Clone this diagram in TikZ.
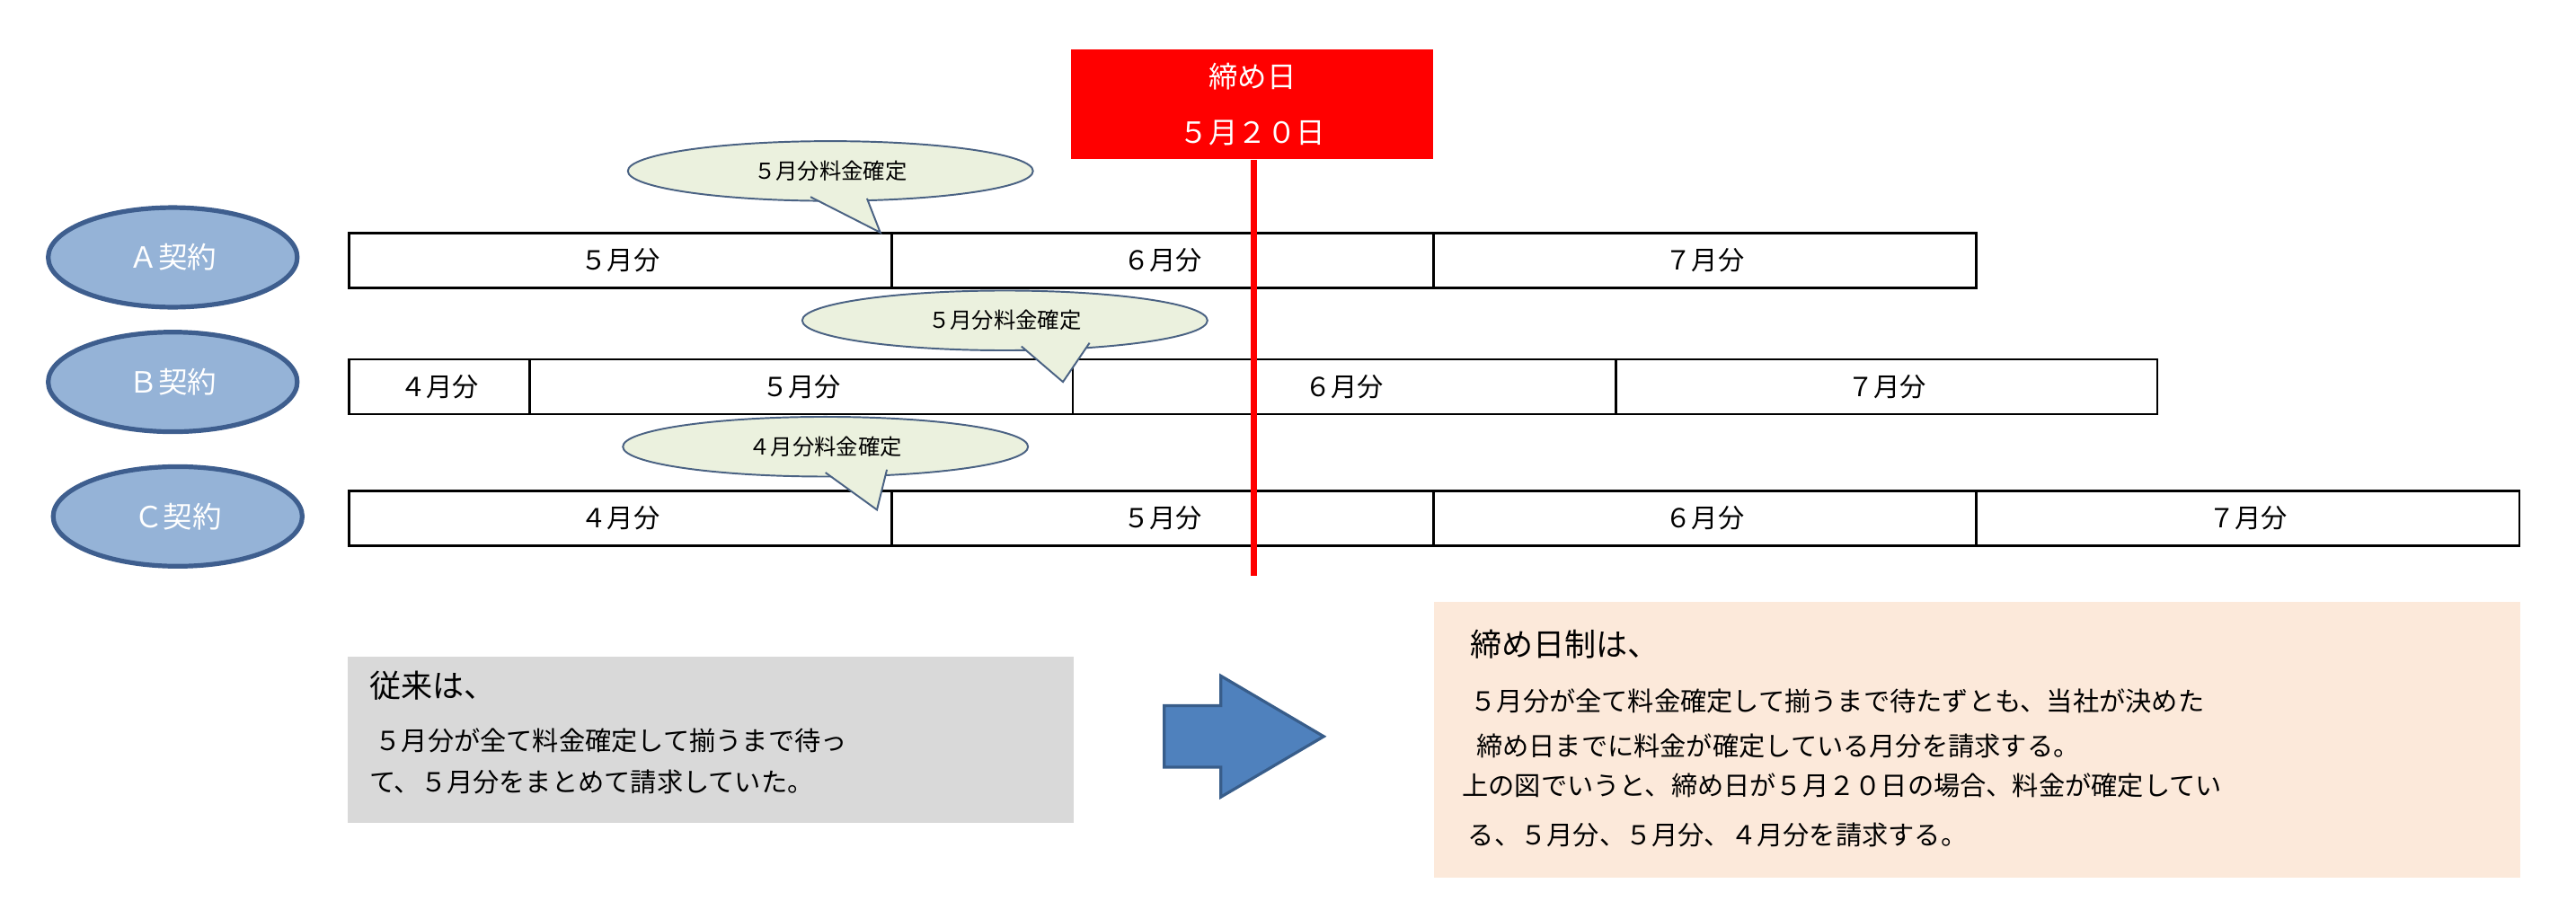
\documentclass[tikz,border=0pt]{standalone}
\usepackage{fontspec}
\setmainfont{Noto Sans CJK JP}
\usetikzlibrary{shapes.geometric}
\definecolor{ellfill}{HTML}{95B3D7}
\definecolor{elldraw}{HTML}{3E5E8E}
\definecolor{callfill}{HTML}{EBF1DE}
\definecolor{callline}{HTML}{4A6283}
\definecolor{greybox}{HTML}{D9D9D9}
\definecolor{peach}{HTML}{FCE9DA}
\definecolor{arrowblue}{HTML}{4F81BD}
\definecolor{arrowline}{HTML}{385D8A}
\begin{document}
\begin{tikzpicture}[x=0.02cm,y=-0.02cm,
  contract/.style={ellipse,draw=elldraw,line width=1.6pt,fill=ellfill,minimum width=3cm,minimum height=1.2cm,font=\fontsize{10}{12}\selectfont,text=white},
  bar/.style={draw,line width=0.8pt,minimum height=0.66cm,inner sep=0pt,font=\fontsize{9}{11}\selectfont},
  callout/.style={ellipse,draw=callline,line width=0.6pt,fill=callfill,minimum width=4.88cm,minimum height=0.72cm,inner sep=0pt,font=\fontsize{7.5}{9}\selectfont},
  txt/.style={anchor=west,inner sep=0pt,font=\fontsize{9}{11}\selectfont},
  head/.style={anchor=west,inner sep=0pt,font=\fontsize{10.8}{13}\selectfont}]
\useasboundingbox (0,0) rectangle (1551,553);
% contracts
\node[contract] (A) at (104,155) {Ａ契約};
\node[contract] (B) at (104,230) {Ｂ契約};
\node[contract] (C) at (107,311) {Ｃ契約};
% bars A
\node[bar,minimum width=6.54cm] (a1) at (373.5,157) {５月分};
\node[bar,minimum width=6.52cm] (a2) at (700,157) {６月分};
\node[bar,minimum width=6.54cm] (a3) at (1026.5,157) {７月分};
% bars B
\node[bar,minimum width=2.18cm] (b0) at (264.5,233) {４月分};
\node[bar,minimum width=6.54cm] (b1) at (482.5,233) {５月分};
\node[bar,minimum width=6.54cm] (b2) at (809.5,233) {６月分};
\node[bar,minimum width=6.52cm] (b3) at (1136,233) {７月分};
% bars C
\node[bar,minimum width=6.54cm] (c1) at (373.5,312) {４月分};
\node[bar,minimum width=6.52cm] (c2) at (700,312) {５月分};
\node[bar,minimum width=6.54cm] (c3) at (1026.5,312) {６月分};
\node[bar,minimum width=6.54cm] (c4) at (1353.5,312) {７月分};
% callouts
\node[callout] (ca) at (500,103) {５月分料金確定};
\coordinate (pa) at (530,140);
\fill[callfill] (488,118) -- (pa) -- (522,119) -- cycle;
\draw[callline,line width=0.6pt] (488,118.6) -- (pa) -- (522,119.5);
\node[callout] (cb) at (605,193) {５月分料金確定};
\coordinate (pb) at (640,230);
\fill[callfill] (615,208) -- (pb) -- (656,206) -- cycle;
\draw[callline,line width=0.6pt] (615,208.6) -- (pb) -- (656,206.5);
\node[callout] (cc) at (497,269) {４月分料金確定};
\coordinate (pc) at (528,307);
\fill[callfill] (497,284) -- (pc) -- (534,282) -- cycle;
\draw[callline,line width=0.6pt] (497,284.6) -- (pc) -- (534,282.8);
% deadline
\node[fill=red,minimum width=4.36cm,minimum height=1.32cm,text=white,align=center,font=\fontsize{10}{19}\selectfont] (dl) at (754,63) {締め日\\５月２０日};
\coordinate (dlend) at (755,347);
\draw[red,line width=2pt] (dl.south -| dlend) -- (dlend);
% grey box
\node[fill=greybox,minimum width=8.74cm,minimum height=2cm,anchor=north west] (gb) at (209,395) {};
\node[head] (g0) at (222,413) {従来は、};
\node[txt] (g1) at (222,446) {\ ５月分が全て料金確定して揃うまで待っ};
\node[txt] (g2) at (222,471) {て、５月分をまとめて請求していた。};
% arrow
\draw[arrowline,fill=arrowblue,line width=1pt] (701,425) -- (735,425) -- (735,407) -- (797,443.5) -- (735,480) -- (735,462) -- (701,462) -- cycle;
% peach box
\node[fill=peach,minimum width=13.08cm,minimum height=3.32cm,anchor=north west] (pbx) at (863,362) {};
\node[head] (p0) at (885,388) {締め日制は、};
\node[txt] (p1) at (885,422) {５月分が全て料金確定して揃うまで待たずとも、当社が決めた};
\node[txt] (p2) at (885,449) {\ 締め日までに料金が確定している月分を請求する。};
\node[txt] (p3) at (880,473) {上の図でいうと、締め日が５月２０日の場合、料金が確定してい};
\node[txt] (p4) at (880,503) {\ る、５月分、５月分、４月分を請求する。};
\end{tikzpicture}
\end{document}
